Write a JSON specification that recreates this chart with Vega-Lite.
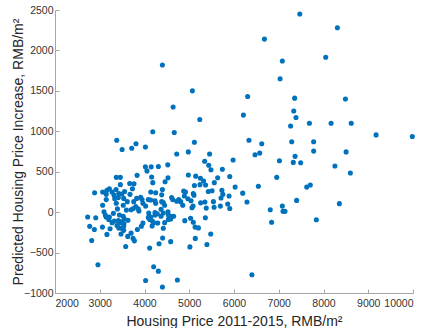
{
  "$schema": "https://vega.github.io/schema/vega-lite/v6.json",
  "width": 358,
  "height": 283,
  "autosize": "none",
  "padding": {"left": 55, "top": 10, "right": 14, "bottom": 35},
  "background": "white",
  "config": {
    "view": {"stroke": null},
    "font": "Liberation Sans"
  },
  "data": {
    "values": [
      {"price": 7470, "increase": 2450}, {"price": 8310, "increase": 2280}, {"price": 6680, "increase": 2140},
      {"price": 8050, "increase": 1915}, {"price": 7080, "increase": 1870}, {"price": 4400, "increase": 1820},
      {"price": 7030, "increase": 1650}, {"price": 5070, "increase": 1500}, {"price": 6305, "increase": 1430},
      {"price": 7355, "increase": 1410}, {"price": 8490, "increase": 1400}, {"price": 4640, "increase": 1300},
      {"price": 7335, "increase": 1250}, {"price": 6210, "increase": 1200}, {"price": 5235, "increase": 1145},
      {"price": 7385, "increase": 1170}, {"price": 7265, "increase": 1065}, {"price": 7685, "increase": 1100},
      {"price": 8170, "increase": 1100}, {"price": 8620, "increase": 1100}, {"price": 4185, "increase": 995},
      {"price": 4665, "increase": 985}, {"price": 9175, "increase": 955}, {"price": 9985, "increase": 935},
      {"price": 3380, "increase": 890}, {"price": 6335, "increase": 890}, {"price": 5115, "increase": 865},
      {"price": 7290, "increase": 870}, {"price": 7780, "increase": 870}, {"price": 3810, "increase": 845},
      {"price": 6620, "increase": 845}, {"price": 3715, "increase": 790}, {"price": 4020, "increase": 805},
      {"price": 3500, "increase": 775}, {"price": 4980, "increase": 745}, {"price": 7780, "increase": 755},
      {"price": 8505, "increase": 745}, {"price": 5455, "increase": 720}, {"price": 4720, "increase": 720},
      {"price": 6575, "increase": 730}, {"price": 6470, "increase": 710}, {"price": 7365, "increase": 690},
      {"price": 5980, "increase": 645}, {"price": 7015, "increase": 635}, {"price": 5345, "increase": 630},
      {"price": 7325, "increase": 615}, {"price": 7490, "increase": 610}, {"price": 8255, "increase": 570},
      {"price": 4520, "increase": 585}, {"price": 5435, "increase": 580}, {"price": 4020, "increase": 560},
      {"price": 4150, "increase": 560}, {"price": 4310, "increase": 565}, {"price": 4055, "increase": 510},
      {"price": 5485, "increase": 525}, {"price": 5740, "increase": 530}, {"price": 8600, "increase": 485},
      {"price": 4980, "increase": 460}, {"price": 5145, "increase": 445}, {"price": 5250, "increase": 420},
      {"price": 5905, "increase": 440}, {"price": 6955, "increase": 430}, {"price": 3370, "increase": 430},
      {"price": 3460, "increase": 430}, {"price": 3835, "increase": 455}, {"price": 4160, "increase": 435},
      {"price": 5635, "increase": 425}, {"price": 4525, "increase": 425}, {"price": 4460, "increase": 375},
      {"price": 5320, "increase": 385}, {"price": 5560, "increase": 365}, {"price": 4185, "increase": 365},
      {"price": 5240, "increase": 340}, {"price": 5115, "increase": 330}, {"price": 5365, "increase": 335},
      {"price": 7705, "increase": 335}, {"price": 7625, "increase": 310}, {"price": 6545, "increase": 320},
      {"price": 6025, "increase": 310}, {"price": 3670, "increase": 355}, {"price": 3765, "increase": 350},
      {"price": 3460, "increase": 340}, {"price": 3215, "increase": 290}, {"price": 3160, "increase": 270},
      {"price": 3365, "increase": 280}, {"price": 3555, "increase": 255}, {"price": 3730, "increase": 290},
      {"price": 4400, "increase": 280}, {"price": 5730, "increase": 270}, {"price": 5510, "increase": 265},
      {"price": 5425, "increase": 255}, {"price": 4875, "increase": 260}, {"price": 4915, "increase": 250},
      {"price": 5090, "increase": 230}, {"price": 4140, "increase": 250}, {"price": 4250, "increase": 240},
      {"price": 2885, "increase": 240}, {"price": 3065, "increase": 250}, {"price": 3275, "increase": 250},
      {"price": 3425, "increase": 230}, {"price": 3495, "increase": 225}, {"price": 6195, "increase": 235},
      {"price": 6290, "increase": 125}, {"price": 3145, "increase": 220}, {"price": 3320, "increase": 210},
      {"price": 3675, "increase": 220}, {"price": 4385, "increase": 215}, {"price": 5105, "increase": 210},
      {"price": 5750, "increase": 220}, {"price": 4890, "increase": 200}, {"price": 5890, "increase": 200},
      {"price": 4605, "increase": 180}, {"price": 5710, "increase": 175}, {"price": 3415, "increase": 180},
      {"price": 3915, "increase": 185}, {"price": 3825, "increase": 170}, {"price": 3945, "increase": 155},
      {"price": 3335, "increase": 165}, {"price": 3535, "increase": 170}, {"price": 4085, "increase": 155},
      {"price": 4970, "increase": 165}, {"price": 4630, "increase": 155}, {"price": 4140, "increase": 150},
      {"price": 4765, "increase": 155}, {"price": 4720, "increase": 135}, {"price": 5040, "increase": 140},
      {"price": 3145, "increase": 155}, {"price": 4235, "increase": 140}, {"price": 7400, "increase": 145},
      {"price": 4385, "increase": 130}, {"price": 4810, "increase": 130}, {"price": 5540, "increase": 130},
      {"price": 5350, "increase": 125}, {"price": 5255, "increase": 115}, {"price": 8355, "increase": 105},
      {"price": 4420, "increase": 120}, {"price": 4250, "increase": 110}, {"price": 3965, "increase": 110},
      {"price": 3370, "increase": 110}, {"price": 3760, "increase": 130}, {"price": 3615, "increase": 130},
      {"price": 3065, "increase": 85}, {"price": 3525, "increase": 85}, {"price": 4450, "increase": 85},
      {"price": 4855, "increase": 85}, {"price": 5085, "increase": 75}, {"price": 5860, "increase": 100},
      {"price": 7080, "increase": 75}, {"price": 4025, "increase": 75}, {"price": 3805, "increase": 70},
      {"price": 5695, "increase": 75}, {"price": 5555, "increase": 60}, {"price": 5380, "increase": 50},
      {"price": 5060, "increase": 55}, {"price": 5905, "increase": 45}, {"price": 3750, "increase": 45},
      {"price": 3700, "increase": 30}, {"price": 3860, "increase": 40}, {"price": 3395, "increase": 40},
      {"price": 3595, "increase": 25}, {"price": 3875, "increase": 15}, {"price": 4370, "increase": 35},
      {"price": 4525, "increase": 5}, {"price": 4095, "increase": -10}, {"price": 4235, "increase": -5},
      {"price": 6810, "increase": 30}, {"price": 7095, "increase": 10}, {"price": 7140, "increase": 10},
      {"price": 3095, "increase": 5}, {"price": 3305, "increase": -15}, {"price": 4285, "increase": -20},
      {"price": 4420, "increase": -10}, {"price": 4535, "increase": -35}, {"price": 3125, "increase": -35},
      {"price": 3440, "increase": -35}, {"price": 4235, "increase": -35}, {"price": 4575, "increase": -50},
      {"price": 4370, "increase": -50}, {"price": 4140, "increase": -60}, {"price": 4650, "increase": -50},
      {"price": 2730, "increase": -60}, {"price": 2910, "increase": -70}, {"price": 3140, "increase": -60},
      {"price": 3215, "increase": -60}, {"price": 3525, "increase": -50}, {"price": 4085, "increase": -65},
      {"price": 4585, "increase": -85}, {"price": 5360, "increase": -70}, {"price": 3200, "increase": -90},
      {"price": 3415, "increase": -105}, {"price": 3550, "increase": -85}, {"price": 4115, "increase": -90},
      {"price": 4535, "increase": -90}, {"price": 5030, "increase": -75}, {"price": 3325, "increase": -110},
      {"price": 3490, "increase": -120}, {"price": 3630, "increase": -100}, {"price": 4175, "increase": -110},
      {"price": 4900, "increase": -105}, {"price": 5090, "increase": -125}, {"price": 7840, "increase": -95},
      {"price": 6840, "increase": -125}, {"price": 3275, "increase": -130}, {"price": 3450, "increase": -130},
      {"price": 3540, "increase": -145}, {"price": 3965, "increase": -135}, {"price": 4205, "increase": -130},
      {"price": 4295, "increase": -135}, {"price": 4450, "increase": -130}, {"price": 2775, "increase": -175},
      {"price": 3385, "increase": -165}, {"price": 3535, "increase": -175}, {"price": 3930, "increase": -175},
      {"price": 4170, "increase": -170}, {"price": 5130, "increase": -185}, {"price": 3060, "increase": -185},
      {"price": 3425, "increase": -195}, {"price": 3490, "increase": -200}, {"price": 5205, "increase": -195},
      {"price": 2880, "increase": -215}, {"price": 3230, "increase": -205}, {"price": 3840, "increase": -215},
      {"price": 4420, "increase": -200}, {"price": 3535, "increase": -225}, {"price": 3475, "increase": -270},
      {"price": 3160, "increase": -275}, {"price": 3700, "increase": -260}, {"price": 5480, "increase": -270},
      {"price": 3625, "increase": -300}, {"price": 4405, "increase": -320}, {"price": 5135, "increase": -325},
      {"price": 3745, "increase": -325}, {"price": 2820, "increase": -350}, {"price": 3775, "increase": -355},
      {"price": 4585, "increase": -365}, {"price": 4325, "increase": -390}, {"price": 5395, "increase": -400},
      {"price": 3580, "increase": -425}, {"price": 5015, "increase": -430}, {"price": 4115, "increase": -445},
      {"price": 2960, "increase": -650}, {"price": 4205, "increase": -675}, {"price": 4310, "increase": -730},
      {"price": 6400, "increase": -775}, {"price": 4025, "increase": -845}, {"price": 4735, "increase": -840},
      {"price": 4400, "increase": -925}
    ]
  },
  "mark": {"type": "circle", "size": 26, "color": "#0072BD", "opacity": 1},
  "encoding": {
    "x": {
      "field": "price",
      "type": "quantitative",
      "scale": {"domain": [2000, 10000], "nice": false, "zero": false},
      "axis": {
        "title": "Housing Price 2011-2015, RMB/m²",
        "values": [2000, 3000, 4000, 5000, 6000, 7000, 8000, 9000, 10000],
        "format": "d",
        "grid": false,
        "domainColor": "#a6a6a6",
        "tickColor": "#a6a6a6",
        "tickSize": -4,
        "labelPadding": 9,
        "labelFont": "Liberation Sans",
        "labelFontSize": 10.5,
        "labelColor": "#333333",
        "titleFont": "Liberation Sans",
        "titleFontSize": 14,
        "titleFontWeight": "normal",
        "titleColor": "#262626",
        "titlePadding": 6
      }
    },
    "y": {
      "field": "increase",
      "type": "quantitative",
      "scale": {"domain": [-1000, 2500], "nice": false, "zero": false},
      "axis": {
        "title": "Predicted Housing Price Increase, RMB/m²",
        "values": [-1000, -500, 0, 500, 1000, 1500, 2000, 2500],
        "format": "d",
        "grid": false,
        "domainColor": "#a6a6a6",
        "tickColor": "#a6a6a6",
        "tickSize": -4,
        "labelPadding": 6,
        "labelFont": "Liberation Sans",
        "labelFontSize": 10.5,
        "labelColor": "#333333",
        "titleFont": "Liberation Sans",
        "titleFontSize": 14,
        "titleFontWeight": "normal",
        "titleColor": "#262626",
        "titlePadding": -2
      }
    }
  }
}
